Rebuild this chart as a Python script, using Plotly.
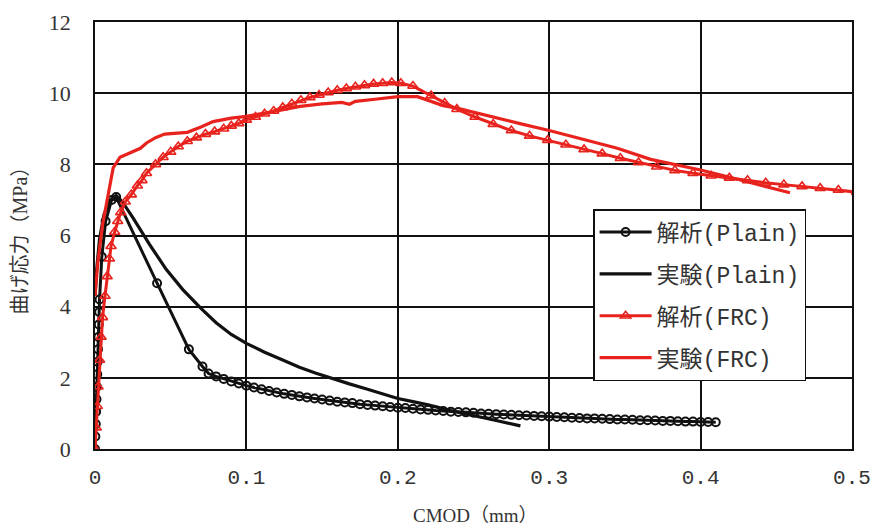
import plotly.graph_objects as go

# --- Plain concrete: analysis (CMOD in mm, flexural stress in MPa) ---
plain_ana_x = [0, 0.00025, 0.0005, 0.00075, 0.001, 0.00125, 0.0015, 0.00175, 0.002,
               0.00225, 0.0025, 0.00275, 0.003, 0.0045, 0.007, 0.011, 0.014,
               0.041, 0.062, 0.071,
               0.075, 0.08, 0.085, 0.09, 0.095, 0.10, 0.105, 0.11, 0.115, 0.12,
               0.125, 0.13, 0.135, 0.14, 0.145, 0.15, 0.155, 0.16, 0.165, 0.17,
               0.175, 0.18, 0.185, 0.19, 0.195, 0.2, 0.205, 0.21, 0.215, 0.22,
               0.225, 0.23, 0.235, 0.24, 0.245, 0.25, 0.255, 0.26, 0.265, 0.27,
               0.275, 0.28, 0.285, 0.29, 0.295, 0.3, 0.305, 0.31, 0.315, 0.32,
               0.325, 0.33, 0.335, 0.34, 0.345, 0.35, 0.355, 0.36, 0.365, 0.37,
               0.375, 0.38, 0.385, 0.39, 0.395, 0.4, 0.405, 0.41]
plain_ana_y = [0, 0.35, 0.7, 1.05, 1.4, 1.75, 2.1, 2.45, 2.8,
               3.15, 3.5, 3.85, 4.2, 5.4, 6.4, 7.0, 7.08,
               4.66, 2.8, 2.32,
               2.12, 2.04, 1.97, 1.90, 1.84, 1.78, 1.73, 1.68, 1.63, 1.59,
               1.55, 1.52, 1.48, 1.45, 1.42, 1.39, 1.36, 1.33, 1.31, 1.29,
               1.26, 1.24, 1.22, 1.20, 1.18, 1.16, 1.15, 1.13, 1.11, 1.10,
               1.08, 1.07, 1.05, 1.04, 1.03, 1.02, 1.00, 0.99, 0.98, 0.97,
               0.96, 0.95, 0.94, 0.93, 0.92, 0.91, 0.90, 0.89, 0.88, 0.87,
               0.86, 0.86, 0.85, 0.84, 0.83, 0.83, 0.82, 0.81, 0.81, 0.80,
               0.79, 0.79, 0.78, 0.77, 0.77, 0.76, 0.76, 0.75]

# --- Plain concrete: experiment ---
plain_exp_x = [0, 0.001, 0.003, 0.006, 0.01, 0.014, 0.018, 0.025, 0.036, 0.047,
               0.058, 0.07, 0.08, 0.09, 0.1, 0.112, 0.124, 0.135, 0.146, 0.157,
               0.168, 0.18, 0.19, 0.2, 0.21, 0.22, 0.235, 0.25, 0.265, 0.281]
plain_exp_y = [4.3, 5.0, 5.9, 6.6, 7.0, 7.12, 6.95, 6.5, 5.75, 5.05,
               4.48, 3.95, 3.55, 3.22, 2.97, 2.72, 2.5, 2.3, 2.13, 1.97,
               1.83, 1.68, 1.55, 1.42, 1.33, 1.24, 1.08, 0.95, 0.8, 0.65]

# --- Fibre reinforced concrete: analysis ---
frc_ana_x = [0, 0.0008, 0.0015, 0.002, 0.003, 0.004, 0.005, 0.0066, 0.008, 0.0095,
             0.0106, 0.013, 0.015, 0.017, 0.02, 0.024, 0.028, 0.031, 0.034, 0.04,
             0.045, 0.05, 0.055, 0.061, 0.067, 0.073, 0.079, 0.085, 0.09, 0.095,
             0.1, 0.106, 0.112, 0.118, 0.124, 0.13, 0.136, 0.142, 0.148, 0.154,
             0.16, 0.166, 0.172, 0.178, 0.184, 0.19, 0.196, 0.202, 0.21, 0.222,
             0.231, 0.239, 0.251, 0.263, 0.275, 0.287, 0.299, 0.311, 0.323, 0.335,
             0.347, 0.359, 0.371, 0.383, 0.395, 0.407, 0.419, 0.431, 0.443, 0.455,
             0.467, 0.479, 0.491, 0.503]
frc_ana_y = [0, 0.6, 1.2, 1.75, 2.5, 3.15, 3.7, 4.3, 4.85, 5.35,
             5.7, 6.1, 6.4, 6.65, 6.95, 7.15, 7.4, 7.55, 7.75, 8.0,
             8.2, 8.35, 8.5, 8.65, 8.75, 8.85, 8.92, 9.0, 9.08, 9.15,
             9.25, 9.33, 9.42, 9.5, 9.6, 9.7, 9.8, 9.88, 9.95, 10.02,
             10.08, 10.13, 10.18, 10.22, 10.26, 10.28, 10.3, 10.28, 10.2, 9.93,
             9.72, 9.55, 9.33, 9.13, 8.95, 8.8, 8.68, 8.55, 8.42, 8.3,
             8.17, 8.05, 7.93, 7.83, 7.75, 7.68, 7.62, 7.55, 7.48, 7.43,
             7.38, 7.33, 7.28, 7.22]

# --- Fibre reinforced concrete: experiment ---
frc_exp_x = [0, 0.002, 0.005, 0.008, 0.01, 0.012, 0.0165, 0.024, 0.03, 0.034,
             0.04, 0.046, 0.061, 0.07, 0.078, 0.09, 0.1, 0.12, 0.1355, 0.15,
             0.163, 0.168, 0.172, 0.185, 0.2, 0.213, 0.23, 0.239, 0.26, 0.28,
             0.3, 0.32, 0.345, 0.367, 0.385, 0.4, 0.42, 0.433, 0.445, 0.459]
frc_exp_y = [4.3, 5.3, 6.3, 7.0, 7.5, 7.9, 8.2, 8.33, 8.45, 8.6,
             8.75, 8.85, 8.9, 9.05, 9.2, 9.3, 9.35, 9.5, 9.63, 9.7,
             9.74, 9.69, 9.77, 9.83, 9.9, 9.9, 9.65, 9.58, 9.35, 9.15,
             8.95, 8.72, 8.45, 8.14, 7.98, 7.84, 7.63, 7.48, 7.35, 7.2]

x_ticks = [0, 0.1, 0.2, 0.3, 0.4, 0.5]
x_tick_text = ["0", "0.1", "0.2", "0.3", "0.4", "0.5"]
y_ticks = [0, 2, 4, 6, 8, 10, 12]

BLACK = "#111111"
RED = "#e8231e"
TEXT = "#333333"
MONO = "Liberation Mono, Noto Sans CJK JP, monospace"
SERIF = "Liberation Serif, Noto Sans CJK JP, serif"

fig = go.Figure()
fig.add_trace(go.Scatter(
    x=plain_ana_x, y=plain_ana_y, name="解析(Plain)", legendgroup="g1",
    mode="lines+markers",
    line=dict(color=BLACK, width=3),
    marker=dict(symbol="circle-open", size=8, color=BLACK, line=dict(width=2, color=BLACK)),
))
fig.add_trace(go.Scatter(
    x=plain_exp_x, y=plain_exp_y, name="実験(Plain)", legendgroup="g2",
    mode="lines", line=dict(color=BLACK, width=3.2),
))
fig.add_trace(go.Scatter(
    x=frc_ana_x, y=frc_ana_y, name="解析(FRC)", legendgroup="g3",
    mode="lines+markers",
    line=dict(color=RED, width=3),
    marker=dict(symbol="triangle-up-open", size=9, color=RED, line=dict(width=1.6, color=RED)),
))
fig.add_trace(go.Scatter(
    x=frc_exp_x, y=frc_exp_y, name="実験(FRC)", legendgroup="g4",
    mode="lines", line=dict(color=RED, width=3.2),
))

fig.update_layout(
    width=872, height=528,
    margin=dict(l=95, r=20, t=22, b=79),
    paper_bgcolor="white", plot_bgcolor="white",
    showlegend=True,
    legend=dict(
        x=0.658, y=0.562, xanchor="left", yanchor="top",
        bgcolor="white", bordercolor=BLACK, borderwidth=1.5,
        font=dict(family=MONO, size=23, color=TEXT),
        traceorder="grouped", tracegroupgap=9,
        itemwidth=52,
    ),
    xaxis=dict(
        range=[0, 0.5], tickvals=x_ticks, ticktext=x_tick_text,
        showgrid=True, gridcolor=BLACK, gridwidth=1.5,
        showline=True, linecolor=BLACK, linewidth=1.5, mirror=True,
        zeroline=False, ticks="", ticklabelstandoff=8, automargin=False,
        tickfont=dict(family=MONO, size=21, color=TEXT),
    ),
    yaxis=dict(
        range=[0, 12], tickvals=y_ticks,
        showgrid=True, gridcolor=BLACK, gridwidth=1.5,
        showline=True, linecolor=BLACK, linewidth=1.5, mirror=True,
        zeroline=False, ticks="", ticklabelstandoff=18, automargin=False,
        tickfont=dict(family=SERIF, size=22, color=TEXT),
    ),
    annotations=[
        dict(text="CMOD（mm）", xref="paper", yref="paper", x=0.503, y=-0.155,
             xanchor="center", yanchor="middle", showarrow=False,
             font=dict(family=SERIF, size=19, color=TEXT)),
        dict(text="曲げ応力（MPa）", xref="paper", yref="paper", x=0, y=0.5,
             xshift=-76, xanchor="center", yanchor="middle", showarrow=False,
             textangle=-90,
             font=dict(family=SERIF, size=20, color=TEXT)),
    ],
)

fig.write_html("out.html")
